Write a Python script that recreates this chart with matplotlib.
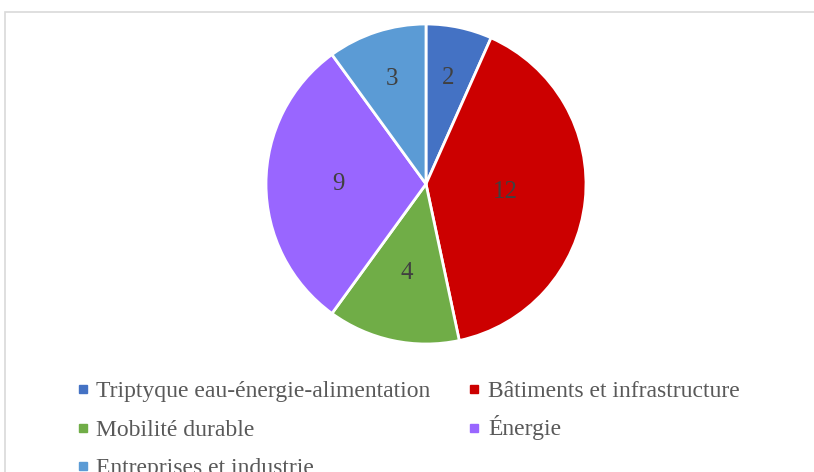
import matplotlib.pyplot as plt
from matplotlib.lines import Line2D
from matplotlib.patches import Rectangle
import numpy as np

plt.rcParams["font.family"] = ["Liberation Serif", "DejaVu Serif"]

# Data
categories = [
    "Triptyque eau-énergie-alimentation",
    "Bâtiments et infrastructure",
    "Mobilité durable",
    "Énergie",
    "Entreprises et industrie",
]
values = [2, 12, 4, 9, 3]
colors = ["#4472C4", "#CC0000", "#70AD47", "#9966FF", "#5B9BD5"]
label_dist = [0.68, 0.50, 0.57, 0.55, 0.69]

W, H = 814, 472
fig = plt.figure(figsize=(W / 100, H / 100), dpi=100)


def fx(px):
    return px / W


def fy(py):
    return 1 - py / H


# chart frame (cut at right/bottom like the source screenshot)
fig.patches.append(Rectangle((fx(4.5), -0.1), 1.2, fy(11.5) + 0.1,
                             transform=fig.transFigure, fill=False,
                             edgecolor="#d9d9d9", lw=1.2))

# pie: centre (426, 183), radius 160 px
cx, cy, r = 426, 184, 160
ax = fig.add_axes([fx(cx - r), fy(cy + r), 2 * r / W, 2 * r / H])
wedges, _ = ax.pie(values, colors=colors, startangle=90, counterclock=False,
                   radius=1.0, wedgeprops=dict(edgecolor="white", linewidth=2))
ax.set_xlim(-1, 1)
ax.set_ylim(-1, 1)
ax.set_aspect("equal")

for w, v, d in zip(wedges, values, label_dist):
    ang = np.deg2rad((w.theta1 + w.theta2) / 2)
    ax.text(d * np.cos(ang), d * np.sin(ang), str(v), ha="center",
            va="center", fontsize=18, color="#404040")

# legend laid out row by row, two columns
col_x = [83, 474.5]
row_y = [389, 427.5, 466]
for i, (name, c) in enumerate(zip(categories, colors)):
    mx, my = col_x[i % 2], row_y[i // 2]
    fig.add_artist(Line2D([fx(mx)], [fy(my)], marker="s", markersize=5.2,
                          linestyle="none", markerfacecolor=c, markeredgecolor=c,
                          transform=fig.transFigure))
    fig.text(fx(mx + 13.5), fy(my + 8), name, ha="left", va="baseline",
             fontsize=17, color="#595959")

fig.savefig("out.png", dpi=100)
